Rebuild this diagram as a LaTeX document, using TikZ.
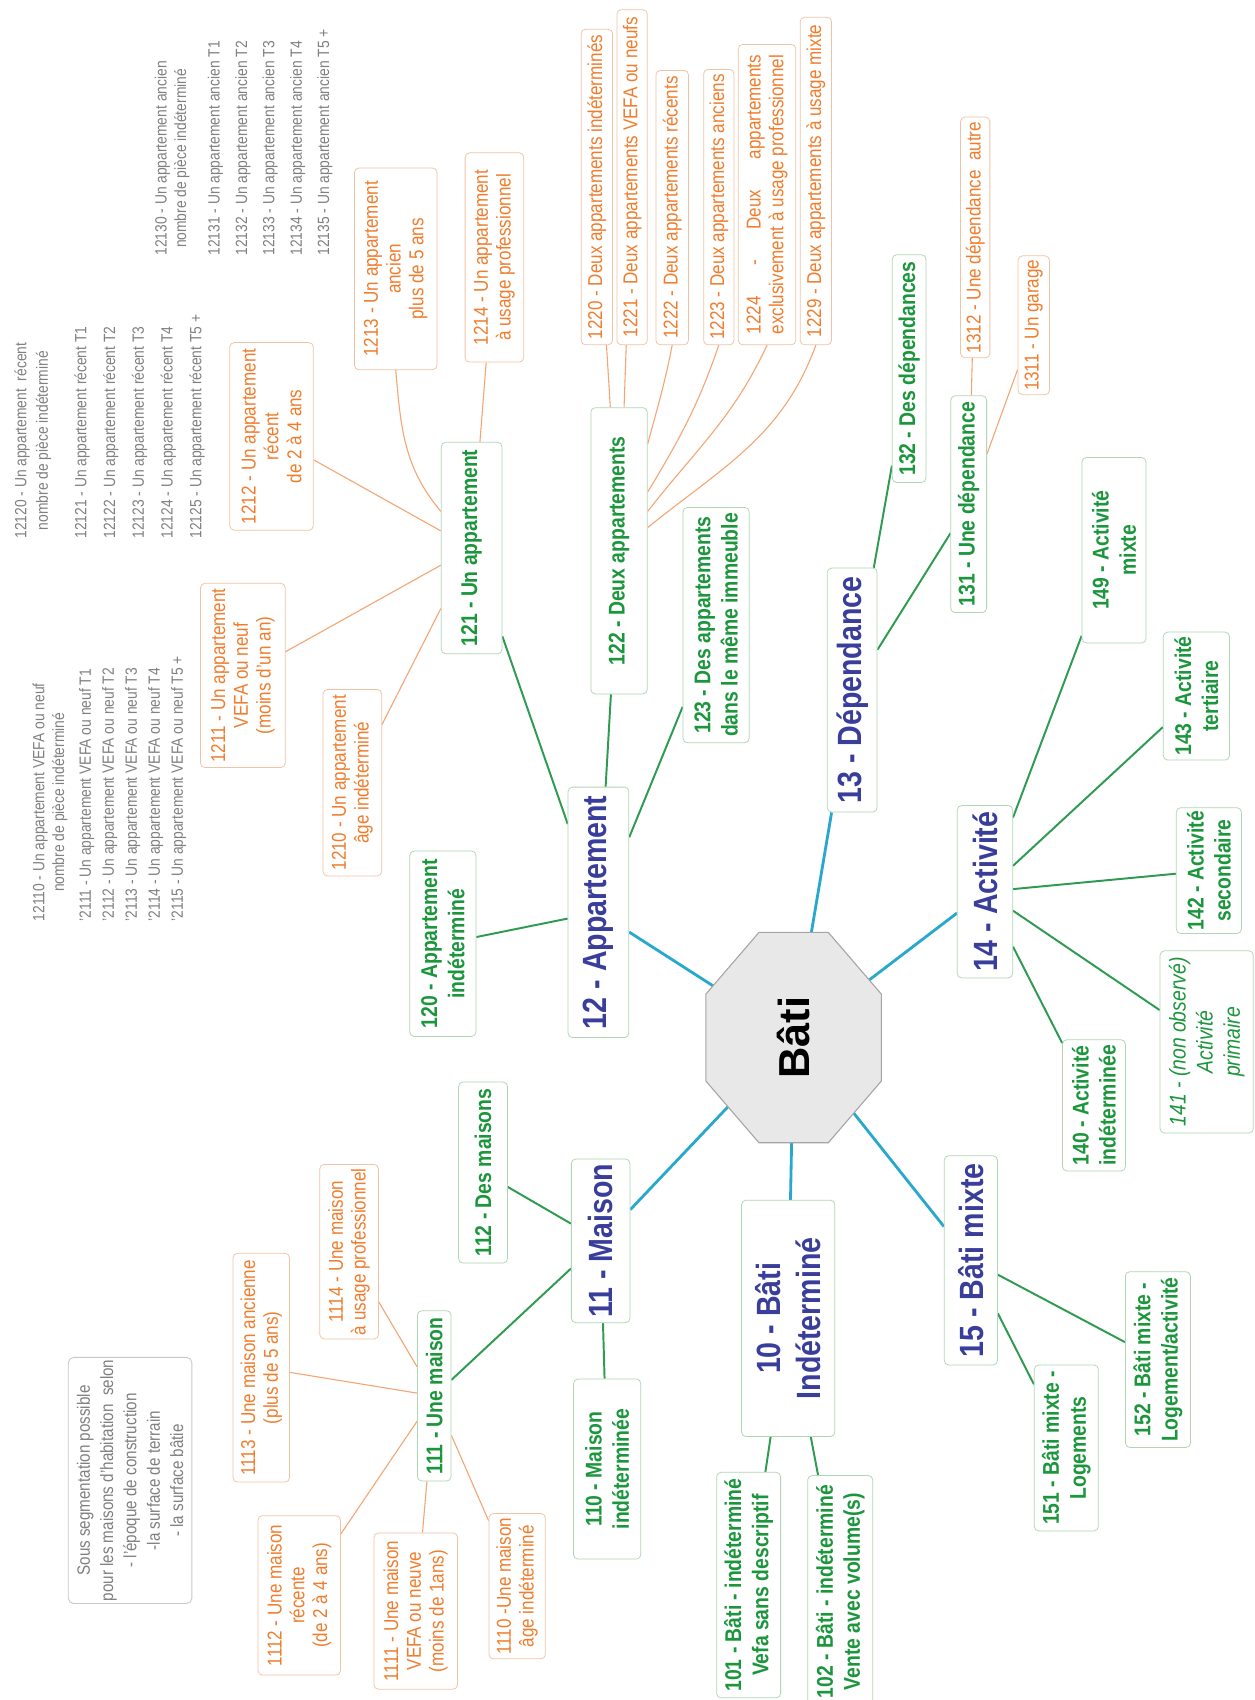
\documentclass[tikz,border=0pt]{standalone}
\usepackage{fontspec}
\setmainfont{Liberation Sans}[FakeStretch=0.85]
\newfontfamily\batifont{Liberation Sans}
\newlength\gwid
\definecolor{tealc}{RGB}{40,168,204}
\definecolor{greenl}{RGB}{46,155,80}
\definecolor{greent}{RGB}{28,150,60}
\definecolor{bluet}{RGB}{58,62,155}
\definecolor{oranget}{RGB}{240,125,45}
\definecolor{orangel}{RGB}{244,165,115}
\definecolor{obord}{RGB}{240,195,165}
\definecolor{gbord}{RGB}{175,215,180}
\definecolor{grayt}{RGB}{128,128,128}
\definecolor{octf}{RGB}{232,232,232}
\definecolor{octd}{RGB}{165,165,165}
\definecolor{noted}{RGB}{200,200,200}
\pgfdeclarelayer{bg}
\pgfsetlayers{bg,main}
\newcommand\centeredunder[2]{\settowidth{\gwid}{#1}\makebox[\gwid][c]{#2}}
\tikzset{
  nbox/.style={draw, rounded corners=4pt, inner sep=0pt, align=center, fill=white, line width=0.7pt},
  sz/.style n args={2}{minimum width=#1pt, minimum height=#2pt},
  lone/.style={nbox, draw=gbord, text=bluet, font=\bfseries\fontsize{31}{37}\selectfont},
  ltwo/.style={nbox, draw=gbord, text=greent, font=\bfseries\fontsize{21}{25}\selectfont},
  lthree/.style={nbox, draw=obord, text=oranget, font=\fontsize{18.5}{21}\selectfont},
  gtext/.style={inner sep=0pt, align=left, text=grayt, anchor=north west},
  tline/.style={draw=tealc, line width=2.6pt},
  gline/.style={draw=greenl, line width=1.8pt},
  oline/.style={draw=orangel, line width=1pt},
}
\begin{document}
\begin{tikzpicture}[x=1pt,y=1pt]
\begin{pgfonlayer}{bg}
\fill[white] (0,0) rectangle (1157,-1568);
\end{pgfonlayer}
\useasboundingbox (0,0) rectangle (1157,-1568);
\filldraw[fill=octf, draw=octd, line width=1pt] (651,-917) -- (700,-860) -- (764,-860) -- (813,-917) -- (813,-997) -- (764,-1054) -- (700,-1054) -- (651,-997) -- cycle;
\begin{scope}[rotate=90, transform shape]
\node[inner sep=0pt, font=\batifont\bfseries\fontsize{40}{48}\selectfont] (bati) at (-957,-732) {Bâti};
% level 1
\node[lone, sz={218}{86}] (n10) at (-1216,-727) {10 - Bâti\\Indéterminé};
\node[lone, sz={151}{54}] (n11) at (-1144.5,-554) {11 - Maison};
\node[lone, sz={231}{56}] (n12) at (-841.5,-552) {12 - Appartement};
\node[lone, sz={225}{46}] (n13) at (-636.5,-786) {13 - Dépendance};
\node[lone, sz={159}{51}] (n14) at (-822.5,-908.5) {14 - Activité};
\node[lone, sz={193}{49}] (n15) at (-1162.5,-895.5) {15 - Bâti mixte};
% level 2
\node[ltwo, sz={208}{59}] (n101) at (-1462,-690.5) {101 - Bâti - indéterminé\\Vefa sans descriptif};
\node[ltwo, sz={214}{60}] (n102) at (-1468,-775) {102 - Bâti - indéterminé\\Vente avec volume(s)};
\node[ltwo, sz={166}{62}] (n110) at (-1355,-560) {110 - Maison\\indéterminée};
\node[ltwo, sz={157}{31}] (n111) at (-1287.5,-400.5) {111 - Une maison};
\node[ltwo, sz={167}{45}] (n112) at (-1081.5,-445.5) {112 - Des maisons};
\node[ltwo, sz={171}{61}] (n120) at (-870.5,-408.5) {120 - Appartement\\indéterminé};
\node[ltwo, sz={195}{56}] (n121) at (-505.5,-435) {121 - Un appartement};
\node[ltwo, sz={264}{52}] (n122) at (-508,-571) {122 - Deux appartements};
\node[ltwo, sz={217}{61}] (n123) at (-576.5,-660.5) {123 - Des appartements\\dans le même immeuble};
\node[ltwo, sz={200}{33}] (n131) at (-465,-893.5) {131 - Une dépendance};
\node[ltwo, sz={210}{31}] (n132) at (-340,-838.5) {132 - Des dépendances};
\node[ltwo, sz={121}{58}] (n140) at (-1019.5,-1009) {140 - Activité\\indéterminée};
\node[ltwo, sz={168}{86}, font=\itshape\fontsize{21}{25}\selectfont] (n141) at (-961,-1113) {141 - (non observé)\\Activité\\primaire};
\node[ltwo, sz={116}{60}] (n142) at (-803,-1115) {142 - Activité\\secondaire};
\node[ltwo, sz={118}{61}] (n143) at (-642,-1103.5) {143 - Activité\\tertiaire};
\node[ltwo, sz={171}{59}] (n149) at (-507.5,-1027.5) {149 - Activité\\mixte};
\node[ltwo, sz={153}{59}] (n151) at (-1335.5,-983.5) {151 - Bâti mixte -\\Logements};
\node[ltwo, sz={162}{60}] (n152) at (-1254,-1068) {152 - Bâti mixte -\\Logement/activité};
% level 3
\node[lthree, sz={134}{52}] (n1110) at (-1463,-477) {1110 -Une maison\\âge indéterminé};
\node[lthree, sz={144}{77}] (n1111) at (-1486,-383.5) {1111 - Une maison\\VEFA ou neuve\\(moins de 1ans)};
\node[lthree, sz={147}{76}] (n1112) at (-1471.5,-276) {1112 - Une maison\\récente\\(de 2 à 4 ans)};
\node[lthree, sz={211}{52}] (n1113) at (-1261.5,-241) {1113 - Une maison ancienne\\(plus de 5 ans)};
\node[lthree, sz={161}{54}] (n1114) at (-1154.5,-322) {1114 - Une maison\\à usage professionnel};
\node[lthree, sz={172}{54}] (n1210) at (-722,-325) {1210 - Un appartement\\âge indéterminé};
\node[lthree, sz={170}{78}] (n1211) at (-623,-224) {1211 - Un appartement\\VEFA ou neuf\\(moins d’un an)};
\node[lthree, sz={173}{77}] (n1212) at (-402.5,-250.5) {1212 - Un appartement\\récent\\de 2 à 4 ans};
\node[lthree, sz={186}{76}] (n1213) at (-248,-365) {1213 - Un appartement\\ancien\\plus de 5 ans};
\node[lthree, sz={193}{54}] (n1214) at (-237.5,-456) {1214 - Un appartement\\à usage professionnel};
\node[lthree, sz={291}{29}] (n1220) at (-172.5,-550.5) {1220 - Deux appartements indéterminés};
\node[lthree, sz={309}{28}] (n1221) at (-163.5,-583) {1221 - Deux appartements VEFA ou neufs};
\node[lthree, sz={253}{30}] (n1222) at (-191.5,-620) {1222 - Deux appartements récents};
\node[lthree, sz={254}{28}] (n1223) at (-191,-663) {1223 - Deux appartements anciens};
\node[lthree, sz={277}{53}] (n1224) at (-179.5,-707.5) {\settowidth{\gwid}{exclusivement à usage professionnel}\makebox[\gwid][s]{1224 - Deux appartements}\\exclusivement à usage professionnel};
\node[lthree, sz={302}{29}] (n1229) at (-167,-752.5) {1229 - Deux appartements à usage mixte};
\node[lthree, sz={128}{29}] (n1311) at (-300,-953.5) {1311 - Un garage};
\node[lthree, sz={222}{27}] (n1312) at (-219,-899.5) {1312 - Une dépendance\ \ autre};
% gray texts
\node[gtext, font=\fontsize{15}{21.2}\selectfont] (g1) at (-850,-29.8) {12110 - Un appartement VEFA ou neuf\\[-2.8pt]\centeredunder{12110 - Un appartement VEFA ou neuf}{nombre de pièce indéterminé}\\[3.4pt]’2111 - Un appartement VEFA ou neuf T1\\’2112 - Un appartement VEFA ou neuf T2\\’2113 - Un appartement VEFA ou neuf T3\\’2114 - Un appartement VEFA ou neuf T4\\’2115 - Un appartement VEFA ou neuf T5 +};
\node[gtext, font=\fontsize{15}{26.5}\selectfont] (g2) at (-497,-13) {12120 - Un appartement\ \ récent\\[-6.5pt]\centeredunder{12120 - Un appartement\ \ récent}{nombre de pièce indéterminé}\\[9pt]12121 - Un appartement récent T1\\12122 - Un appartement récent T2\\12123 - Un appartement récent T3\\12124 - Un appartement récent T4\\12125 - Un appartement récent T5 +};
\node[gtext, font=\fontsize{15}{25.25}\selectfont] (g3) at (-236,-142.5) {12130 - Un appartement ancien\\[-7.25pt]\centeredunder{12130 - Un appartement ancien}{nombre de pièce indéterminé}\\[5.75pt]12131 - Un appartement ancien T1\\12132 - Un appartement ancien T2\\12133 - Un appartement ancien T3\\12134 - Un appartement ancien T4\\12135 - Un appartement ancien T5 +};
\node[draw=noted, rounded corners=5pt, line width=0.8pt, inner sep=0pt, align=center, text=grayt, sz={227}{114}, font=\fontsize{16.5}{21.5}\selectfont] (note) at (-1365.5,-120) {Sous segmentation possible\\pour les maisons d’habitation\ \ selon\\- l’époque de construction\\-la surface de terrain\\- la surface bâtie};
\end{scope}
\begin{pgfonlayer}{bg}
\begin{scope}[rotate=90]
% teal
\draw[tline] (bati.center) -- (n10);
\draw[tline] (bati.center) -- (n11);
\draw[tline] (bati.center) -- (n12);
\draw[tline] (bati.center) -- (n13);
\draw[tline] (bati.center) -- (n14);
\draw[tline] (bati.center) -- (n15);
% green
\draw[gline] (n10) -- (n101);
\draw[gline] (n10) -- (n102);
\draw[gline] (n11) -- (n110);
\draw[gline] (n11) -- (n111);
\draw[gline] (n11) -- (n112);
\draw[gline] (n12) -- (n120);
\draw[gline] (n12) -- (n121);
\draw[gline] (n12) -- (n122);
\draw[gline] (n12) -- (n123);
\draw[gline] (n13) -- (n131);
\draw[gline] (n13) -- (n132);
\draw[gline] (n14) -- (n140);
\draw[gline] (n14) -- (n141);
\draw[gline] (n14) -- (n142);
\draw[gline] (n14) -- (n143);
\draw[gline] (n14) -- (n149);
\draw[gline] (n15) -- (n151);
\draw[gline] (n15) -- (n152);
% orange
\draw[oline] (n111) -- (n1110);
\draw[oline] (n111) -- (n1111);
\draw[oline] (n111) -- (n1112);
\draw[oline] (n111) -- (n1113);
\draw[oline] (n111) -- (n1114);
\draw[oline] (n121) -- (n1210);
\draw[oline] (n121) -- (n1211);
\draw[oline] (n121) -- (n1212);
\draw[oline] (n121.40) to[out=40,in=185] (n1213.west);
\draw[oline] (n121) -- (n1214);
\draw[oline] (n122) -- (n1220);
\draw[oline] (n122) -- (n1221);
\draw[oline] (n122.-15) to[out=-15,in=169] (n1222.west);
\draw[oline] (n122.-26.6) to[out=-31,in=161] (n1223.west);
\draw[oline] (n122.-36.6) to[out=-38,in=155] (n1224.west);
\draw[oline] (n122.-51) to[out=-51,in=160] (n1229.west);
\draw[oline] (n131) -- (n1311);
\draw[oline] (n131) -- (n1312);
\end{scope}
\end{pgfonlayer}
\end{tikzpicture}
\end{document}
